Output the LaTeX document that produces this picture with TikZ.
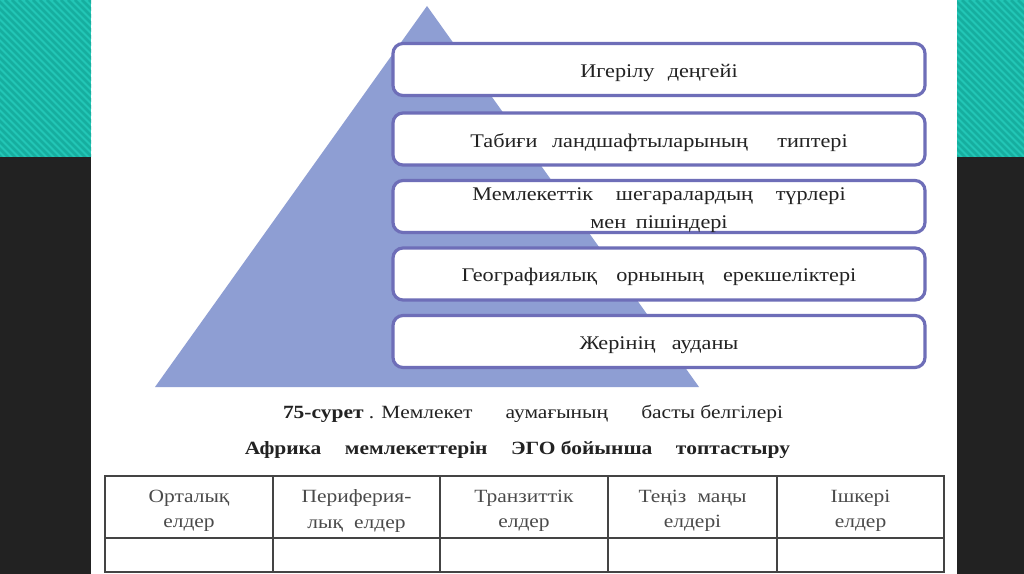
\documentclass[tikz,border=0pt]{standalone}
\usepackage{fontspec}
\setmainfont[FakeStretch=1.15]{Liberation Serif}
\definecolor{darkbg}{HTML}{222222}
\definecolor{tealA}{HTML}{22C6B6}
\definecolor{tealB}{HTML}{16AE9F}
\definecolor{tri}{HTML}{8E9ED3}
\definecolor{boxline}{HTML}{6E6EB8}
\definecolor{tabcol}{HTML}{444444}
\definecolor{tabtext}{HTML}{4A4A4A}
\definecolor{txt}{HTML}{222222}
\tikzset{
  levelbox/.style={draw=boxline, line width=2.4pt, fill=white, rounded corners=7.5pt,
    minimum width=399pt, minimum height=39pt, inner sep=0pt, align=center,
    font=\fontsize{14.5}{17}\selectfont, text=txt},
  captxt/.style={inner sep=0pt, font=\fontsize{14}{17}\selectfont, text=txt},
  tabrule/.style={draw=tabcol, line width=1.1pt},
  headtxt/.style={inner sep=0pt, align=center, font=\fontsize{14}{19}\selectfont, text=tabtext}
}
\newcommand{\lowr}[1]{\raisebox{-2.4pt}[\height][\depth]{#1}}
\begin{document}
\begin{tikzpicture}[x=0.75pt,y=-0.75pt]
\useasboundingbox (0,0) rectangle (1024,574);
\fill[white] (0,0) rectangle (1024,574);
% side panels
\fill[darkbg] (0,157) rectangle (91,574);
\fill[darkbg] (957,157) rectangle (1024,574);
\fill[tealA] (0,0) rectangle (91,157);
\fill[tealA] (957,0) rectangle (1024,157);
\begin{scope}
  \clip (0,0) rectangle (91,157);
  \foreach \i in {-170,-163,...,100} \draw[tealB, line width=2pt] (\i,0) -- ++(170,170);
\end{scope}
\begin{scope}
  \clip (957,0) rectangle (1024,157);
  \foreach \i in {787,794,...,1030} \draw[tealB, line width=2pt] (\i,0) -- ++(170,170);
\end{scope}
% pyramid
\fill[tri] (427,6) -- (699,387) -- (155,387) -- cycle;
% level boxes
\node[levelbox] (b1) at (659,69.5) {\lowr{\makebox[118pt][s]{Игерілу\hfill деңгейі}}};
\node[levelbox] (b2) at (659,139) {\lowr{\makebox[283pt][s]{Табиғи\hfill ландшафтыларының\hfill\hfill типтері}}};
\node[levelbox] (b3) at (659,206.5) {\lowr{\makebox[280pt][s]{Мемлекеттік\hfill шегаралардың\hfill түрлері}}\\[4pt]\lowr{\makebox[103pt][s]{мен\hfill пішіндері}}};
\node[levelbox] (b4) at (659,274) {\lowr{\makebox[296pt][s]{Географиялық\hfill орнының\hfill ерекшеліктері}}};
\node[levelbox] (b5) at (659,341.5) {\lowr{\makebox[119pt][s]{Жерінің\hfill ауданы}}};
% captions
\node[captxt] (c1) at (533,414) {\makebox[375pt][s]{\textbf{75-сурет} . Мемлекет\hfill аумағының\hfill басты белгілері}};
\node[captxt] (c2) at (517.5,450) {\makebox[409pt][s]{\bfseries Африка\hfill мемлекеттерін\hfill ЭГО бойынша\hfill топтастыру}};
% table
\draw[tabrule] (105,476) rectangle (944,572);
\draw[draw=tabcol, line width=2pt] (105,538) -- (944,538);
\foreach \x in {273,440,608,777} \draw[tabrule] (\x,476) -- (\x,572);
\node[headtxt] (h1) at (189,511) {Орталық\\елдер};
\node[headtxt] (h2) at (356.5,511) {Периферия-\\лық\hspace{0.6em}елдер};
\node[headtxt] (h3) at (524,511) {Транзиттік\\елдер};
\node[headtxt] (h4) at (692.5,511) {Теңіз\hspace{0.6em}маңы\\елдері};
\node[headtxt] (h5) at (860.5,511) {Ішкері\\елдер};
\end{tikzpicture}
\end{document}
